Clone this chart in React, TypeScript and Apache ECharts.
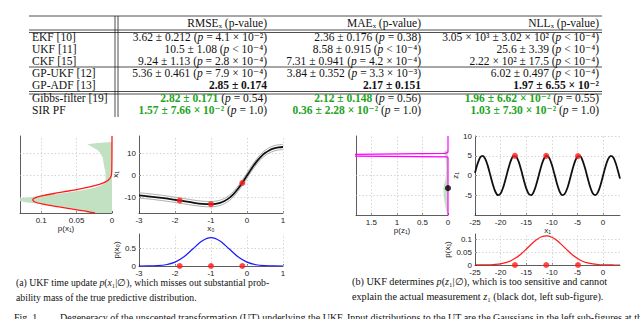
import React, { useEffect, useRef } from "react";
import * as echarts from "echarts";

// ---------------- table data ----------------
const tableCaption = "HYPOTHESIS THAT THE OTHER FILTERS ARE BETTER THAN THE GP-ADF USING A ONE-SIDED T-TEST.";
const tableHeaders = ["RMSEₓ (p-value)", "MAEₓ (p-value)", "NLLₓ (p-value)"];
const tableMethods = ["EKF [10]", "UKF [11]", "CKF [15]", "GP-UKF [12]", "GP-ADF [13]", "Gibbs-filter [19]", "SIR PF"];
const rowKinds = ["plain", "plain", "plain", "plain", "best", "green", "green"];
const rmseValues = ["3.62 ± 0.212", "10.5 ± 1.08", "9.24 ± 1.13", "5.36 ± 0.461", "2.85 ± 0.174", "2.82 ± 0.171", "1.57 ± 7.66 × 10⁻²"];
const rmsePValues = ["= 4.1 × 10⁻²", "< 10⁻⁴", "= 2.8 × 10⁻⁴", "= 7.9 × 10⁻⁴", "", "= 0.54", "= 1.0"];
const maeValues = ["2.36 ± 0.176", "8.58 ± 0.915", "7.31 ± 0.941", "3.84 ± 0.352", "2.17 ± 0.151", "2.12 ± 0.148", "0.36 ± 2.28 × 10⁻²"];
const maePValues = ["= 0.38", "< 10⁻⁴", "= 4.2 × 10⁻⁴", "= 3.3 × 10⁻³", "", "= 0.56", "= 1.0"];
const nllValues = ["3.05 × 10³ ± 3.02 × 10²", "25.6 ± 3.39", "2.22 × 10² ± 17.5", "6.02 ± 0.497", "1.97 ± 6.55 × 10⁻²", "1.96 ± 6.62 × 10⁻²", "1.03 ± 7.30 × 10⁻²"];
const nllPValues = ["< 10⁻⁴", "< 10⁻⁴", "< 10⁻⁴", "< 10⁻⁴", "", "= 0.55", "= 1.0"];

// ---------------- figure (a) data ----------------
const aFuncX = [-3, -2.75, -2.5, -2.25, -2, -1.75, -1.5, -1.25, -1, -0.875, -0.75, -0.625, -0.5, -0.375, -0.25, -0.125, 0, 0.125, 0.25, 0.375, 0.5, 0.625, 0.75, 0.875, 1];
const aFuncY = [-9.0, -9.4, -9.87, -10.4, -11.0, -11.64, -12.29, -12.82, -13.0, -12.83, -12.38, -11.55, -10.25, -8.41, -6.01, -3.14, 0, 3.14, 6.01, 8.41, 10.25, 11.55, 12.38, 12.83, 13.0];
const aNoiseBand = 1.2;
const aSigmaX = [-1.87, -1.0, -0.13];
const aSigmaY = [-11.33, -13.0, -3.36];
const aPriorX = [-3, -2.75, -2.5, -2.25, -2, -1.75, -1.5, -1.25, -1, -0.75, -0.5, -0.25, 0, 0.25, 0.5, 0.75, 1];
const aPriorDensity = [0.0003, 0.0017, 0.0089, 0.035, 0.108, 0.259, 0.484, 0.704, 0.798, 0.704, 0.484, 0.259, 0.108, 0.035, 0.0089, 0.0017, 0.0003];
const aTrueX1 = [15.3, 14.8, 14.2, 13.0, 11.5, 10.0, 8.0, 6.0, 4.0, 2.0, 0.0, -2.0, -3.5, -4.5, -5.5, -6.5, -7.5, -8.5, -9.5, -10.3, -11.0, -11.6, -12.2, -12.8, -13.5, -14.3, -15.2, -16.0, -17.0];
const aTrueDensity = [0.0, 0.02, 0.035, 0.028, 0.02, 0.016, 0.013, 0.012, 0.011, 0.0095, 0.009, 0.009, 0.011, 0.016, 0.025, 0.04, 0.058, 0.08, 0.105, 0.13, 0.13, 0.13, 0.12, 0.1, 0.085, 0.07, 0.052, 0.04, 0.035];
const aUkfX1 = [18, 4, 0, -2, -3, -4, -5, -6, -7, -8, -9, -10, -11, -12, -13, -14, -15, -16, -17];
const aUkfDensity = [0, 0.0002, 0.001, 0.005, 0.01, 0.018, 0.03, 0.045, 0.062, 0.08, 0.096, 0.108, 0.112, 0.109, 0.097, 0.08, 0.06, 0.04, 0.024];
const aMidXTicks = [-3, -2, -1, 0, 1];
const aMidYTicks = [-10, 0, 10];
const aLeftXTicks = [0, 0.05, 0.1];
const aBottomYTicks = [0, 0.5];

// ---------------- figure (b) data ----------------
const bSinX = [-25, -24.5, -24, -23.5, -23, -22.5, -22, -21.5, -21, -20.5, -20, -19.5, -19, -18.5, -18, -17.5, -17, -16.5, -16, -15.5, -15, -14.5, -14, -13.5, -13, -12.5, -12, -11.5, -11, -10.5, -10, -9.5, -9, -8.5, -8, -7.5, -7, -6.5, -6, -5.5, -5, -4.5, -4, -3.5, -3, -2.5, -2, -1.5, -1, -0.5, 0, 0.5, 1, 1.5, 2, 2.5, 3, 3.3];
const bSinZ = [0.66, 2.96, 4.53, 4.99, 4.23, 2.44, 0.04, -2.36, -4.18, -4.98, -4.56, -3.03, -0.75, 1.71, 3.75, 4.88, 4.81, 3.56, 1.44, -1.03, -3.25, -4.67, -4.95, -4.02, -2.1, 0.33, 2.68, 4.38, 5.0, 4.4, 2.72, 0.38, -2.06, -3.99, -4.95, -4.69, -3.28, -1.08, 1.4, 3.53, 4.79, 4.89, 3.78, 1.75, -0.71, -2.99, -4.55, -4.99, -4.21, -2.4, 0, 2.4, 4.21, 4.99, 4.55, 2.99, 0.71, -0.79];
const bSigmaX = [-17.2, -11.1, -4.9];
const bSigmaZ = [4.98, 4.97, 4.91];
const bPriorX = [-25, -24, -23, -22, -21, -20, -19, -18, -17, -16, -15, -14, -13, -12, -11, -10, -9, -8, -7, -6, -5, -4, -3, -2, -1, 0, 1, 2, 3, 3.3];
const bPriorDensity = [0.0001, 0.0001, 0.0004, 0.0009, 0.0022, 0.0046, 0.0091, 0.0166, 0.0278, 0.0429, 0.0612, 0.0805, 0.0977, 0.1094, 0.113, 0.1076, 0.0946, 0.0767, 0.0574, 0.0396, 0.0252, 0.0148, 0.008, 0.004, 0.0019, 0.0008, 0.0003, 0.0001, 0, 0];
const bPredZ = [-10, 4.6, 4.7, 5.1, 5.6, 5.9, 10];
const bPredDensity = [0, 0, 0.03, 3.6, 0.05, 0, 0];
const bTrueZ = [6.6, 6.2, 5.8, 5.3, 4.5, 3, 1, -1, -2.5, -3.5, -5, -6.5, -8, -9.2, -9.8];
const bTrueDensity = [0, 0.06, 0.1, 0.07, 0.05, 0.04, 0.035, 0.05, 0.08, 0.09, 0.085, 0.07, 0.05, 0.03, 0];
const bMeasurement = [0, -3.2];
const bMidXTicks = [-25, -20, -15, -10, -5, 0];
const bMidYTicks = [-5, 0, 5, 10];
const bLeftXTicks = [0, 0.5, 1, 1.5];
const bBottomYTicks = [0, 0.05, 0.1];

// ---------------- captions ----------------
const captionA = ["(a) UKF time update {i|p}({i|x}₁|∅), which misses out substantial prob-", "ability mass of the true predictive distribution."];
const captionB = ["(b) UKF determines {i|p}({i|z}₁|∅), which is too sensitive and cannot", "explain the actual measurement {i|z}₁ (black dot, left sub-figure)."];
const figCaption = "Degeneracy of the unscented transformation (UT) underlying the UKF. Input distributions to the UT are the Gaussians in the left sub-figures at the";

const SERIF = "'Liberation Serif', 'DejaVu Serif', serif";
const SANS = "'Liberation Sans', 'DejaVu Sans', sans-serif";
const GREEN_TXT = "#22a322";
const GREEN_FILL = "#c2e0c2";
const TFS = 11.5;

function richStyles(fs: number) {
  return {
    i: { fontStyle: "italic", fontSize: fs, fontFamily: SERIF, fill: "#111", color: "#111" },
    b: { fontWeight: "bold", fontSize: fs, fontFamily: SERIF, fill: "#111", color: "#111" },
    g: { fontWeight: "bold", fontSize: fs, fontFamily: SERIF, fill: GREEN_TXT, color: GREEN_TXT },
  };
}

function txt(x: number, y: number, text: string, align: string, fs: number, extra: any = {}) {
  return {
    type: "text",
    x,
    y,
    silent: true,
    style: {
      text,
      fontSize: fs,
      fontFamily: SERIF,
      fill: "#111",
      align,
      textAlign: align,
      verticalAlign: "middle",
      textVerticalAlign: "middle",
      rich: richStyles(fs),
      ...extra,
    },
  };
}

function hline(x1: number, x2: number, y: number, w = 0.8) {
  return { type: "line", silent: true, shape: { x1, y1: y, x2, y2: y }, style: { stroke: "#222", lineWidth: w } };
}
function vline(x: number, y1: number, y2: number, w = 0.8) {
  return { type: "line", silent: true, shape: { x1: x, y1, x2: x, y2 }, style: { stroke: "#222", lineWidth: w } };
}

function cellText(value: string, p: string, kind: string) {
  if (kind === "best") return `{b|${value}}`;
  const v = kind === "green" ? `{g|${value}}` : value;
  return `${v} ({i|p} ${p})`;
}

const axisLineStyle = { color: "#333", width: 0.8 };
function valueAxis(gridIndex: number, min: number, max: number, labels: number[], extra: any = {}) {
  const has = labels.length > 0;
  return {
    type: "value",
    gridIndex,
    min,
    max,
    axisLine: { show: true, onZero: false, lineStyle: axisLineStyle },
    axisTick: has
      ? { show: true, inside: true, length: 2, customValues: labels, lineStyle: axisLineStyle }
      : { show: false },
    axisLabel: has
      ? { show: true, customValues: labels, fontSize: 8, fontFamily: SANS, color: "#222", margin: 3, formatter: (v: number) => String(v) }
      : { show: false },
    splitLine: { show: false },
    nameTextStyle: { fontSize: 8, fontFamily: SANS, color: "#222" },
    nameLocation: "middle",
    ...extra,
  };
}

function gridLines(xs: number[], ys: number[]) {
  return {
    silent: true,
    symbol: ["none", "none"],
    z: 1,
    animation: false,
    label: { show: false },
    emphasis: { disabled: true },
    lineStyle: { type: [1.5, 2], color: "#c4c4c4", width: 0.7 },
    data: [...xs.map((v) => ({ xAxis: v })), ...ys.map((v) => ({ yAxis: v }))],
  };
}

function zip(a: number[], b: number[]) {
  return a.map((v, i) => [v, b[i]]);
}

function polygonSeries(idx: number, densities: number[], values: number[]) {
  return {
    type: "custom",
    xAxisIndex: idx,
    yAxisIndex: idx,
    clip: true,
    silent: true,
    z: 2,
    data: [[0, values[0]]],
    renderItem: (params: any, api: any) => {
      const pts = densities.map((d, i) => api.coord([d, values[i]]));
      pts.push(api.coord([0, values[values.length - 1]]));
      pts.push(api.coord([0, values[0]]));
      return { type: "polygon", shape: { points: pts }, style: { fill: GREEN_FILL, stroke: "none" } };
    },
  };
}

function lineSeries(idx: number, data: number[][], color: string, width: number, extra: any = {}) {
  return {
    type: "line",
    xAxisIndex: idx,
    yAxisIndex: idx,
    data,
    showSymbol: false,
    symbol: "none",
    silent: true,
    z: 3,
    lineStyle: { color, width },
    ...extra,
  };
}

function dotSeries(idx: number, data: number[][], color: string, size: number) {
  return {
    type: "scatter",
    xAxisIndex: idx,
    yAxisIndex: idx,
    data,
    symbol: "circle",
    symbolSize: size,
    silent: true,
    z: 5,
    itemStyle: { color },
  };
}

function buildOption() {
  const graphics: any[] = [];
  // table caption (cut at top)
  graphics.push(txt(320, -3, tableCaption, "center", 8.5));
  // rules
  const tl = 29, tr = 602;
  graphics.push(hline(tl, tr, 16));
  graphics.push(hline(tl, tr, 30));
  graphics.push(hline(tl, tr, 32.5));
  graphics.push(hline(tl, tr, 67));
  graphics.push(hline(tl, tr, 91.5));
  graphics.push(hline(tl, tr, 94));
  graphics.push(vline(115, 16, 117));
  graphics.push(vline(118, 16, 117));
  const colRight = [267, 421, 599];
  tableHeaders.forEach((h, c) => graphics.push(txt(colRight[c], 22.5, h, "right", TFS)));
  const rowY = [37, 49, 61, 73, 85, 98, 110];
  tableMethods.forEach((m, r) => {
    graphics.push(txt(32, rowY[r], m, "left", TFS));
    graphics.push(txt(colRight[0], rowY[r], cellText(rmseValues[r], rmsePValues[r], rowKinds[r]), "right", TFS));
    graphics.push(txt(colRight[1], rowY[r], cellText(maeValues[r], maePValues[r], rowKinds[r]), "right", TFS));
    graphics.push(txt(colRight[2], rowY[r], cellText(nllValues[r], nllPValues[r], rowKinds[r]), "right", TFS));
  });
  // captions
  graphics.push(txt(16, 282, captionA[0], "left", 9.75));
  graphics.push(txt(16, 297, captionA[1], "left", 9.75));
  graphics.push(txt(352, 281, captionB[0], "left", 10.2));
  graphics.push(txt(352, 296, captionB[1], "left", 10.2));
  graphics.push(txt(14, 317, "Fig. 1.", "left", 10));
  graphics.push(txt(60, 317, figCaption, "left", 10));

  const aFunc = zip(aFuncX, aFuncY);
  const aUpper = aFuncX.map((x, i) => [x, aFuncY[i] + aNoiseBand]);
  const aLower = aFuncX.map((x, i) => [x, aFuncY[i] - aNoiseBand]);

  return {
    animation: false,
    backgroundColor: "#ffffff",
    grid: [
      { left: 20, top: 136, width: 92, height: 77 },
      { left: 139, top: 136, width: 144, height: 77 },
      { left: 139, top: 234, width: 144, height: 32 },
      { left: 356, top: 136, width: 92, height: 79 },
      { left: 475, top: 136, width: 145, height: 79 },
      { left: 475, top: 234, width: 145, height: 31 },
    ],
    xAxis: [
      valueAxis(0, 0, 0.13, aLeftXTicks, { inverse: true, name: "p(x₁)", nameGap: 10 }),
      valueAxis(1, -3, 1, aMidXTicks, { name: "x₀", nameGap: 10 }),
      valueAxis(2, -3, 1, aMidXTicks),
      valueAxis(3, 0, 1.8, bLeftXTicks, { inverse: true, name: "p(z₁)", nameGap: 10 }),
      valueAxis(4, -25, 3.3, bMidXTicks, { name: "x₁", nameGap: 10 }),
      valueAxis(5, -25, 3.3, bMidXTicks),
    ],
    yAxis: [
      valueAxis(0, -17, 18, []),
      valueAxis(1, -17, 18, aMidYTicks, { name: "x₁", nameGap: 20 }),
      valueAxis(2, 0, 0.9, aBottomYTicks, { name: "p(x₀)", nameGap: 18 }),
      valueAxis(3, -10, 10, []),
      valueAxis(4, -10, 10, bMidYTicks, { name: "z₁", nameGap: 15 }),
      valueAxis(5, 0, 0.12, bBottomYTicks, { name: "p(x₁)", nameGap: 24 }),
    ],
    graphic: graphics,
    series: [
      // (a) left
      polygonSeries(0, aTrueDensity, aTrueX1),
      lineSeries(0, zip(aUkfDensity, aUkfX1), "#ff1a1a", 1.3, { smooth: 0.3, markLine: gridLines([0.05, 0.1], [-10, 0, 10]) }),
      // (a) middle
      lineSeries(1, aUpper, "#9a9a9a", 0.8, { smooth: 0.3, markLine: gridLines([-2, -1, 0, 1], [-10, 0, 10]) }),
      lineSeries(1, aLower, "#9a9a9a", 0.8, { smooth: 0.3 }),
      lineSeries(1, aFunc, "#111", 1.8, { smooth: 0.3 }),
      dotSeries(1, zip(aSigmaX, aSigmaY), "#ff1a1a", 6),
      // (a) bottom
      lineSeries(2, zip(aPriorX, aPriorDensity), "#1a1aff", 1.2, { smooth: 0.3, markLine: gridLines([-2, -1, 0, 1], [0.5]) }),
      dotSeries(2, aSigmaX.map((x) => [x, 0]), "#ff1a1a", 6),
      // (b) left
      polygonSeries(3, bTrueDensity, bTrueZ),
      lineSeries(3, zip(bPredDensity, bPredZ), "#ff00ff", 1.2, { markLine: gridLines([0.5, 1, 1.5], [-5, 0, 5]) }),
      dotSeries(3, [bMeasurement], "#000", 6),
      // (b) middle
      lineSeries(4, zip(bSinX, bSinZ), "#111", 1.8, { smooth: 0.3, markLine: gridLines([-20, -15, -10, -5, 0], [-5, 0, 5, 10]) }),
      dotSeries(4, zip(bSigmaX, bSigmaZ), "#ff1a1a", 6),
      // (b) bottom
      lineSeries(5, zip(bPriorX, bPriorDensity), "#ff1a1a", 1.2, { smooth: 0.3, markLine: gridLines([-20, -15, -10, -5, 0], [0.05, 0.1]) }),
      dotSeries(5, bSigmaX.map((x) => [x, 0]), "#ff1a1a", 6),
    ],
  };
}

export default function App() {
  const ref = useRef<HTMLDivElement>(null);
  useEffect(() => {
    const chart = echarts.init(ref.current as HTMLDivElement, null, { renderer: "svg" });
    chart.setOption(buildOption() as any);
    return () => chart.dispose();
  }, []);
  return (
    <div
      ref={ref}
      style={{ position: "absolute", left: 0, top: 0, width: 640, height: 319, background: "#fff", overflow: "hidden" }}
    />
  );
}
